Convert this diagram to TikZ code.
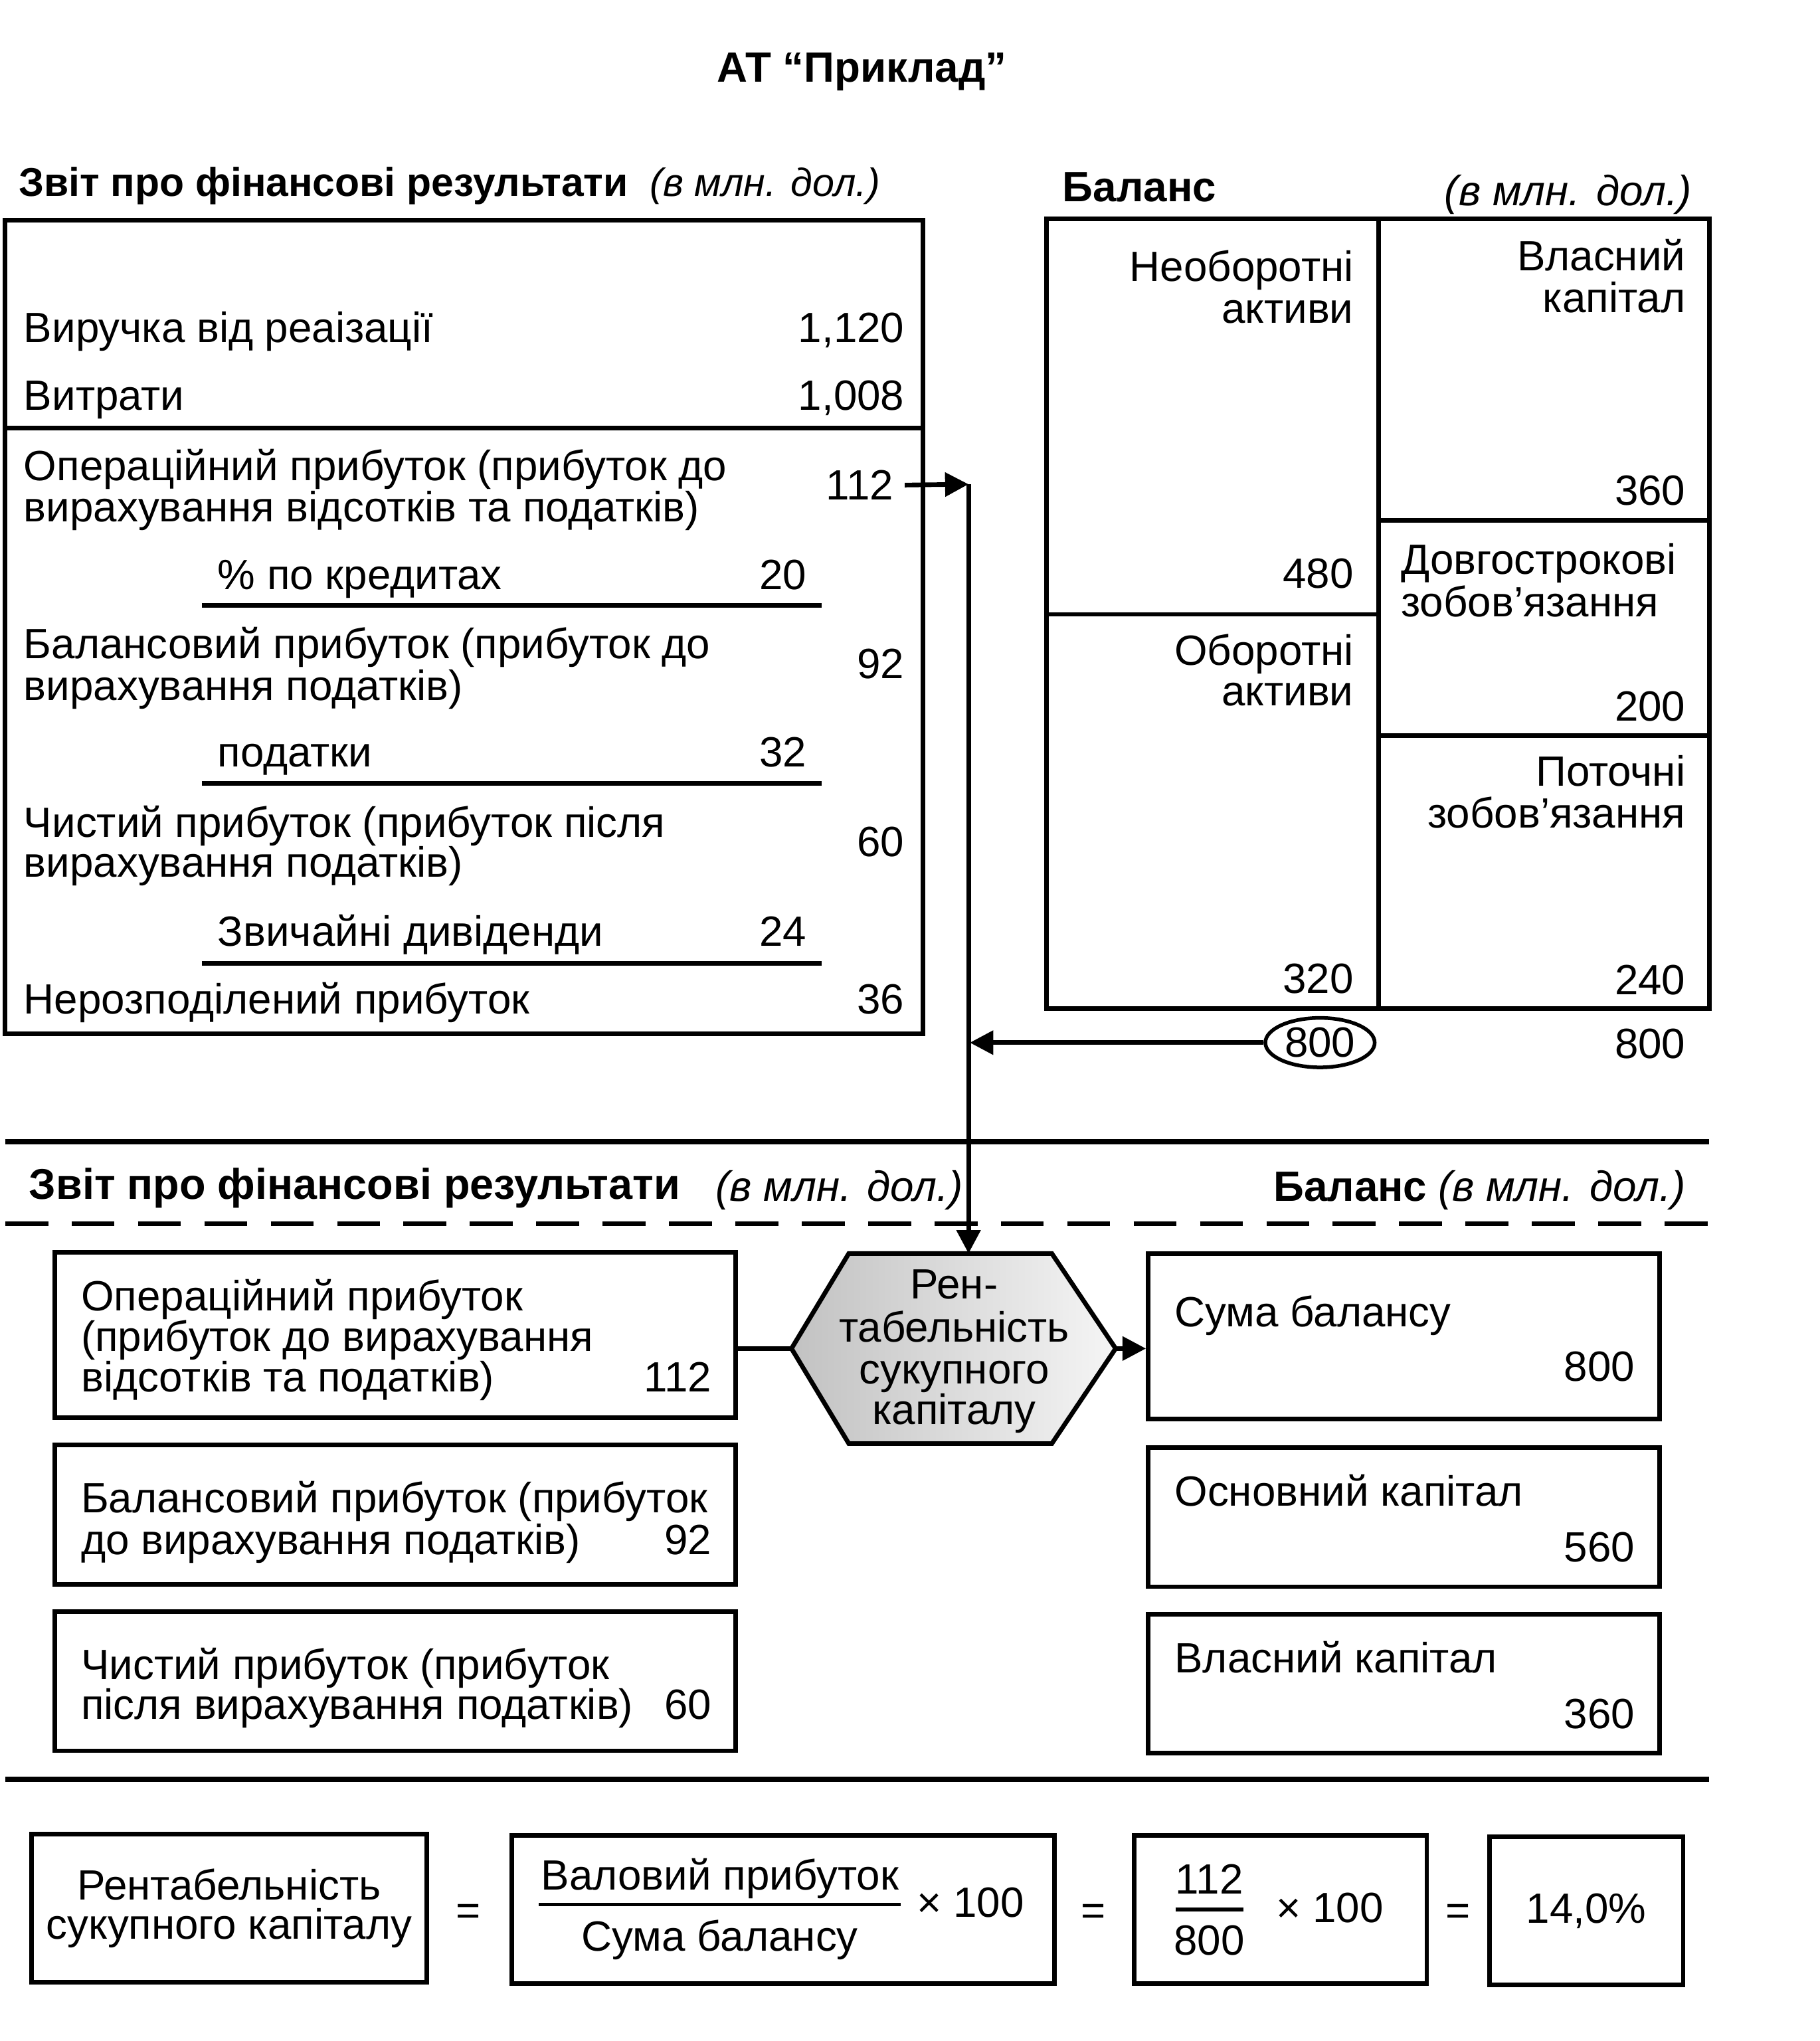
\documentclass[tikz,border=0pt]{standalone}
\usepackage{fontspec}
\setmainfont{Liberation Sans}
\usepackage{tikz}
\usetikzlibrary{arrows.meta, shapes.geometric}

\newcommand{\txtsz}{\fontsize{18.5}{18}\selectfont}

\tikzset{
  lbl/.style={anchor=base west, inner sep=0pt, font=\txtsz},
  num/.style={anchor=base east, inner sep=0pt, font=\txtsz},
  mid/.style={anchor=base, inner sep=0pt, font=\txtsz},
  frame/.style={line width=2pt},
  rule/.style={line width=2.4pt},
  link/.style={line width=2pt},
  lbox/.style={draw, line width=2pt, inner sep=0pt, minimum width=10.46cm},
  rbox/.style={draw, line width=2pt, inner sep=0pt, minimum width=7.86cm},
  fbox/.style={draw, line width=2pt, inner sep=0pt, minimum height=2.28cm, font=\txtsz, align=center}
}

\begin{document}
\begin{tikzpicture}[x=0.02cm, y=-0.02cm, >={Triangle[length=0.36cm, width=0.36cm]}]
    \useasboundingbox (0,0) rectangle (1398,1568);

    %% Заголовок
    \node[mid, font=\txtsz\bfseries] (title) at (662,63) {АТ “Приклад”};

    %% Верхня частина
    % 1. Звіт про фінансові результати
    \node[lbl, font=\fontsize{17.6}{18}\selectfont\bfseries] (hdrL) at (14,151) {Звіт про фінансові результати};
    \node[lbl, font=\fontsize{17.2}{18}\selectfont\itshape] (unitL) at (499,151) {(в млн. дол.)};
    \draw[frame] (4,169) rectangle (709,794);
    \draw[frame] (4,329) -- (709,329);
    \draw[frame] (155,465) -- (631,465);
    \draw[frame] (155,602) -- (631,602);
    \draw[frame] (155,740) -- (631,740);

    \node[lbl] (rev) at (18,263) {Виручка від реаізації};
    \node[num] (v1120) at (695,263) {1,120};
    \node[lbl] (exp) at (18,315) {Витрати};
    \node[num] (v1008) at (695,315) {1,008};
    \node[lbl] (op1) at (18,369) {Операційний прибуток (прибуток до};
    \node[lbl] (op2) at (18,401) {вирахування відсотків та податків)};
    \node[num, outer sep=5pt] (n112) at (695,384) {112};
    \node[lbl] (int) at (167,453) {\% по кредитах};
    \node[num] (v20) at (620,453) {20};
    \node[lbl] (bp1) at (18,506) {Балансовий прибуток (прибуток до};
    \node[lbl] (bp2) at (18,538) {вирахування податків)};
    \node[num] (v92) at (695,521) {92};
    \node[lbl] (tax) at (167,589) {податки};
    \node[num] (v32) at (620,589) {32};
    \node[lbl] (np1) at (18,643) {Чистий прибуток (прибуток після};
    \node[lbl] (np2) at (18,674) {вирахування податків)};
    \node[num] (v60) at (695,658) {60};
    \node[lbl] (div) at (167,727) {Звичайні дивіденди};
    \node[num] (v24) at (620,727) {24};
    \node[lbl] (ret) at (18,779) {Нерозподілений прибуток};
    \node[num] (v36) at (695,779) {36};

    % 2. Баланс
    \node[lbl, font=\txtsz\bfseries] (hdrR) at (816,155) {Баланс};
    \node[num, font=\txtsz\itshape] (unitR) at (1300,158) {(в млн. дол.)};
    \draw[frame] (804,168) rectangle (1313,775);
    \draw[frame] (1059,168) -- (1059,775);
    \draw[frame] (804,472) -- (1059,472);
    \draw[frame] (1059,400) -- (1313,400);
    \draw[frame] (1059,565) -- (1313,565);

    \node[num] (nca1) at (1040,216) {Необоротні};
    \node[num] (nca2) at (1040,248) {активи};
    \node[num] (v480) at (1040,452) {480};
    \node[num] (ca1) at (1040,511) {Оборотні};
    \node[num] (ca2) at (1040,542) {активи};
    \node[num] (v320) at (1040,763) {320};
    \node[num] (eq1) at (1295,208) {Власний};
    \node[num] (eq2) at (1295,240) {капітал};
    \node[num] (v360) at (1295,388) {360};
    \node[lbl] (ltl1) at (1076,441) {Довгострокові};
    \node[lbl] (ltl2) at (1076,474) {зобов’язання};
    \node[num] (v200) at (1295,554) {200};
    \node[num] (cl1) at (1295,604) {Поточні};
    \node[num] (cl2) at (1295,636) {зобов’язання};
    \node[num] (v240) at (1295,764) {240};

    \node[draw, ellipse, line width=1.6pt, inner sep=0pt, minimum width=1.68cm, minimum height=0.76cm, font=\txtsz] (e800) at (1014,801) {800};
    \node[num] (t800) at (1295,813) {800};

    %% Роздільні лінії
    \draw[rule] (4,877) -- (1313,877);
    \node[lbl, font=\fontsize{18.8}{18}\selectfont\bfseries] (hdrL2) at (22,921) {Звіт про фінансові результати};
    \node[num, font=\txtsz\itshape] (unitL2) at (740,923) {(в млн. дол.)};
    \node[lbl, font=\txtsz\bfseries] (hdrR2) at (978,923) {Баланс};
    \node[num, font=\txtsz\itshape] (unitR2) at (1295,923) {(в млн. дол.)};
    \draw[rule, line width=2pt, dash pattern=on 0.66cm off 0.36cm] (4,940) -- (1313,940);

    %% Нижня частина
    % 3. Прибуток
    \node[lbox, minimum height=2.54cm] (B1) at (303.5,1025.5) {};
    \node[lbl] (b1a) at (62,1007) {Операційний прибуток};
    \node[lbl] (b1b) at (62,1038) {(прибуток до вирахування};
    \node[lbl] (b1c) at (62,1069) {відсотків та податків)};
    \node[num] (b1v) at (547,1069) {112};

    \node[lbox, minimum height=2.14cm] (B2) at (303.5,1163.5) {};
    \node[lbl] (b2a) at (62,1162) {Балансовий прибуток (прибуток};
    \node[lbl] (b2b) at (62,1194) {до вирахування податків)};
    \node[num] (b2v) at (547,1194) {92};

    \node[lbox, minimum height=2.14cm] (B3) at (303.5,1291.5) {};
    \node[lbl] (b3a) at (62,1290) {Чистий прибуток (прибуток};
    \node[lbl] (b3b) at (62,1321) {після вирахування податків)};
    \node[num] (b3v) at (547,1321) {60};

    % 4. Рентабельність
    \coordinate (hexW) at (608,1036);
    \coordinate (hexE) at (857,1036);
    \coordinate (hexN) at (744,963);
    \shadedraw[frame, left color=gray!48, right color=gray!8]
      (hexW) -- (652,963) -- (808,963) -- (hexE) -- (808,1109) -- (652,1109) -- cycle;
    \node[mid] (hx1) at (733,998) {Рен-};
    \node[mid] (hx2) at (733,1031) {табельність};
    \node[mid] (hx3) at (733,1063) {сукупного};
    \node[mid] (hx4) at (733,1094) {капіталу};

    % 5. Баланс
    \node[rbox, minimum height=2.54cm] (R1) at (1078.5,1026.5) {};
    \node[lbl] (r1a) at (902,1019) {Сума балансу};
    \node[num] (r1v) at (1256,1061) {800};

    \node[rbox, minimum height=2.14cm] (R2) at (1078.5,1165.5) {};
    \node[lbl] (r2a) at (902,1157) {Основний капітал};
    \node[num] (r2v) at (1256,1200) {560};

    \node[rbox, minimum height=2.14cm] (R3) at (1078.5,1293.5) {};
    \node[lbl] (r3a) at (902,1285) {Власний капітал};
    \node[num] (r3v) at (1256,1328) {360};

    %% Стрілки
    \coordinate (tj) at (744,372);
    \coordinate (tk) at (745,801);
    \draw[link, ->] (n112.east) -- (tj);
    \draw[link, ->] (tj) -- (hexN);
    \draw[link, ->] (e800.west) -- (tk);
    \draw[link] (B1.east |- hexW) -- (hexW);
    \draw[link, ->] (hexE) -- (R1.west |- hexE);

    \draw[rule] (4,1367) -- (1313,1367);

    %% Формула
    \node[fbox, minimum width=6.08cm] (F1) at (176,1466) {Рентабельність\\[-1pt]сукупного капіталу};
    \node[mid] (eqA) at (360,1479) {=};
    \node[fbox, minimum width=8.34cm] (F2) at (601.5,1467) {};
    \node[mid] (fnum) at (553,1452) {Валовий прибуток};
    \node[mid] (fden) at (553,1499) {Сума балансу};
    \draw[link, line width=1.6pt] (414,1463) -- (692,1463);
    \node[lbl] (fx1) at (704,1473) {× 100};
    \node[mid] (eqB) at (840,1479) {=};
    \node[fbox, minimum width=4.5cm] (F3) at (983.5,1467) {};
    \node[mid] (gnum) at (929,1455) {112};
    \node[mid] (gden) at (929,1502) {800};
    \draw[link, line width=1.6pt] (903,1467) -- (955,1467);
    \node[lbl] (fx2) at (980,1477) {× 100};
    \node[mid] (eqC) at (1120,1479) {=};
    \node[fbox, minimum width=2.98cm] (F4) at (1218.5,1468) {14,0\%};

\end{tikzpicture}
\end{document}
